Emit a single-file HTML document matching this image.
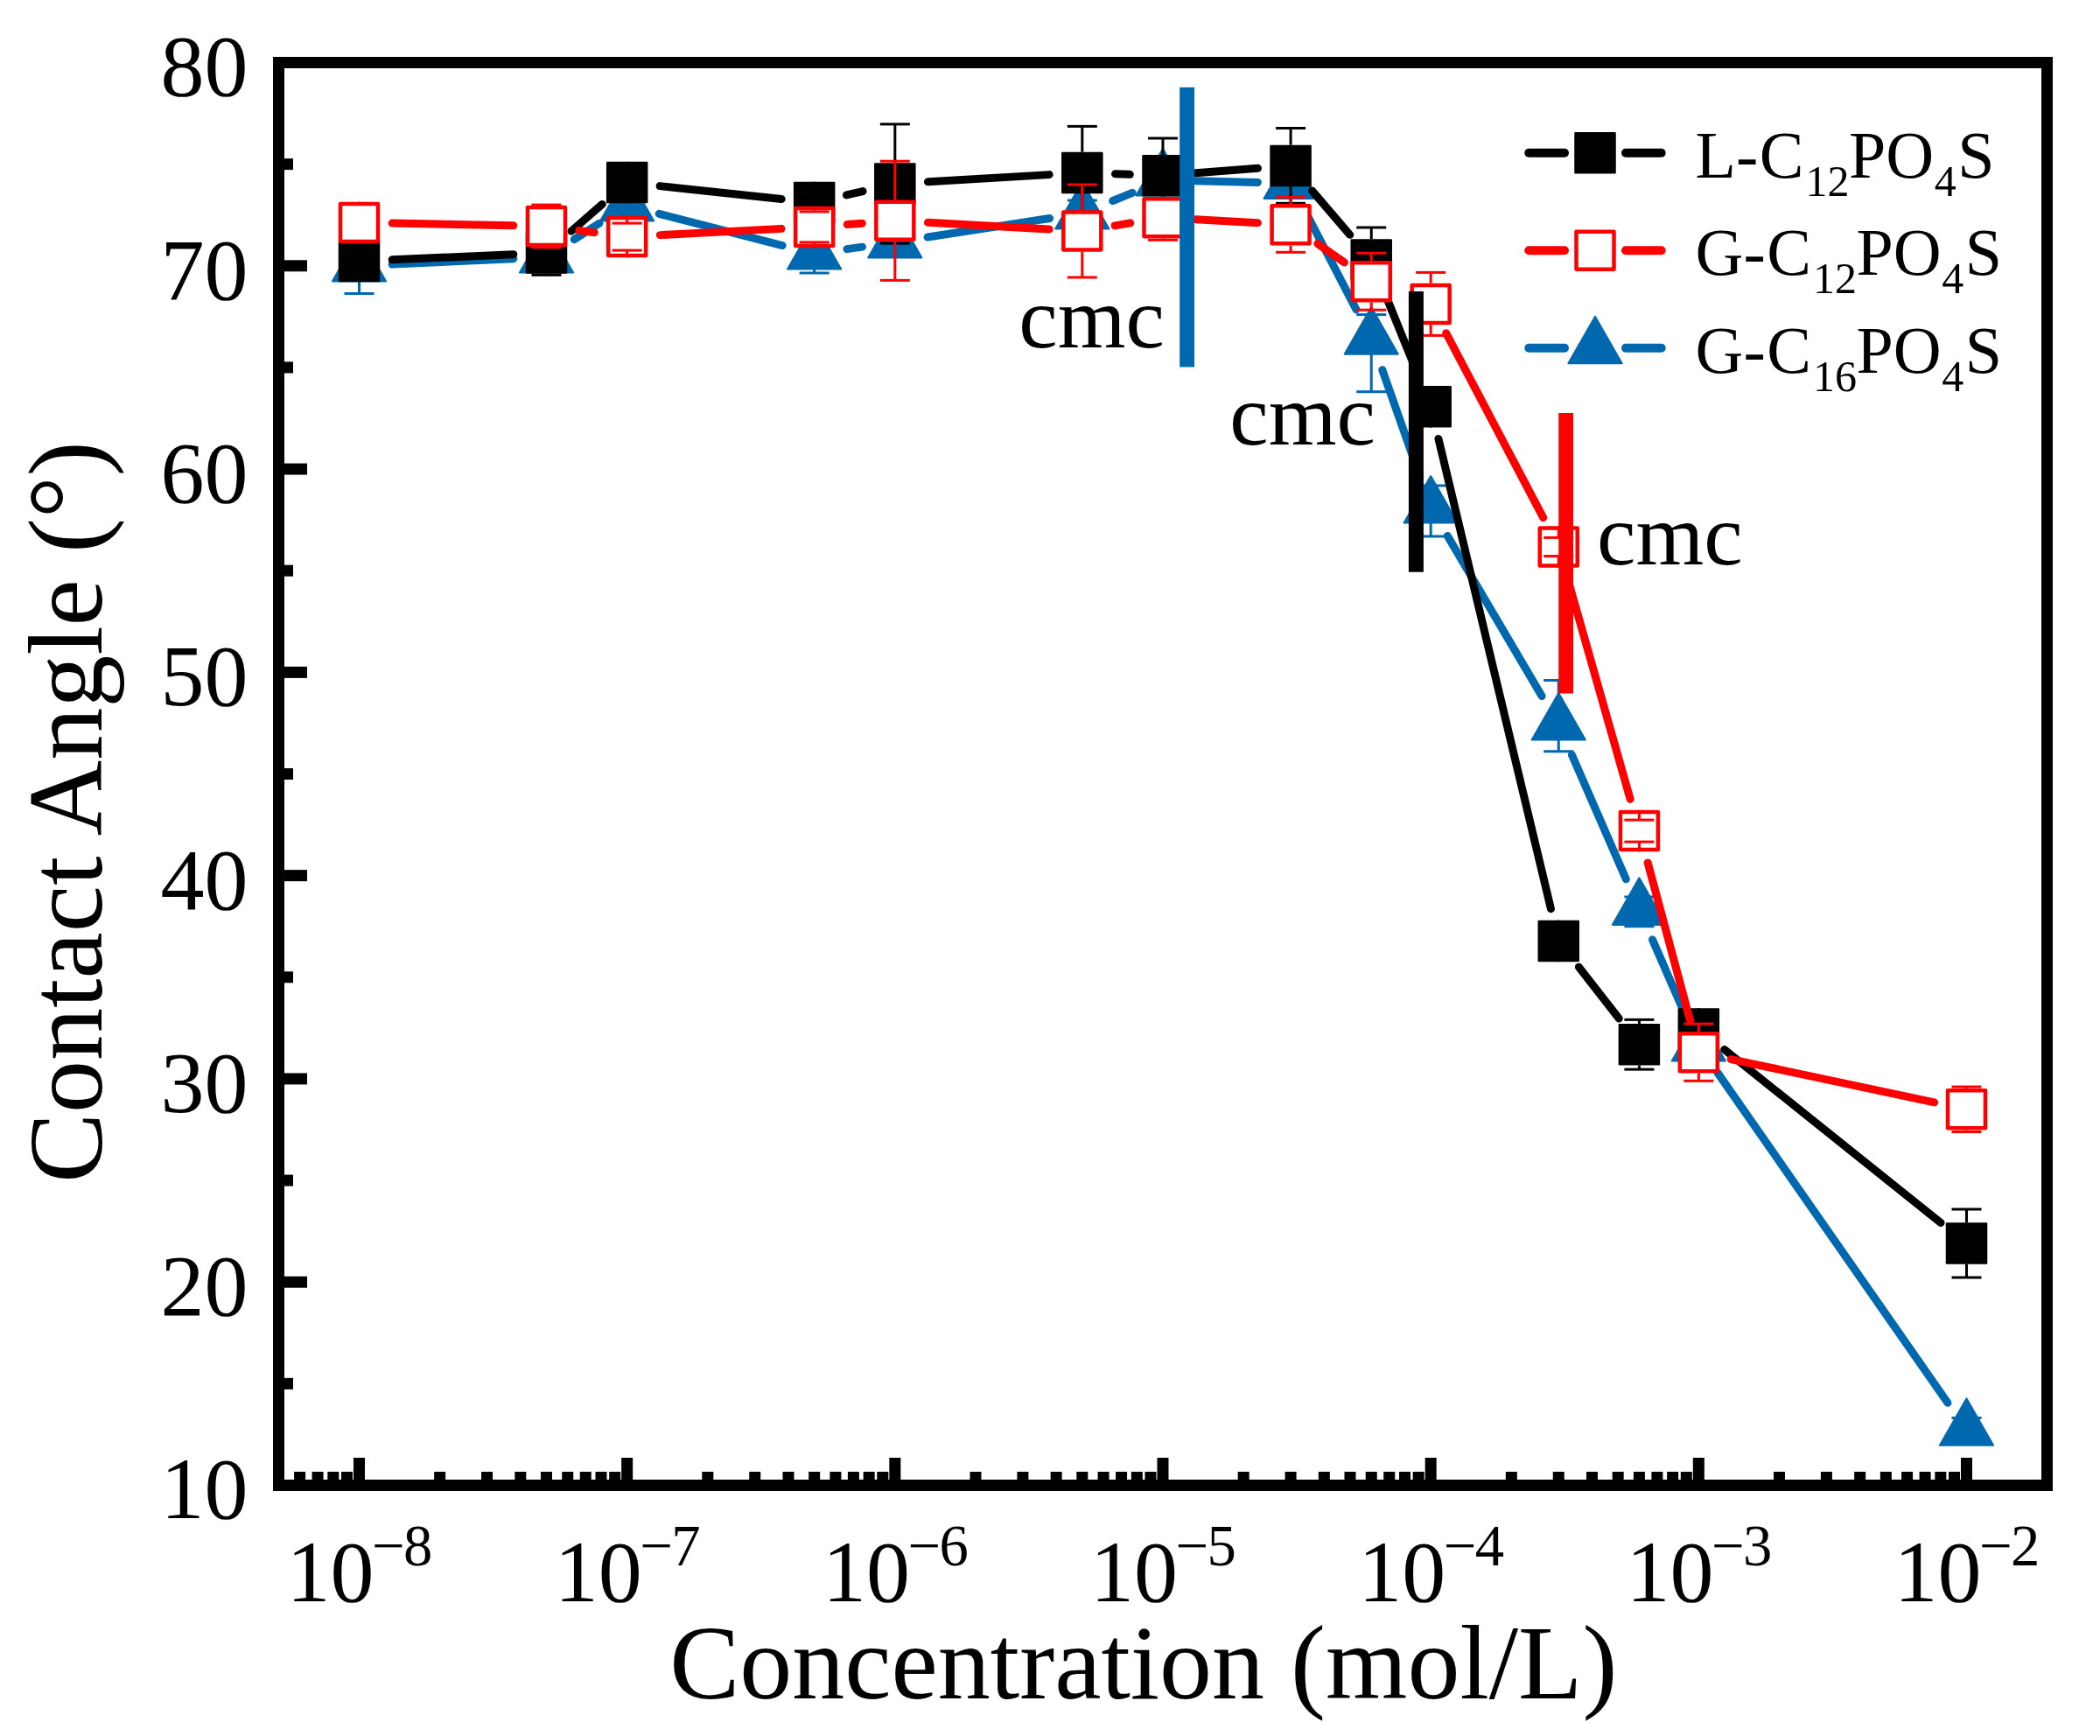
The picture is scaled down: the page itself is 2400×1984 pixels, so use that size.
<!DOCTYPE html>
<html lang="en"><head><meta charset="utf-8"><title>Contact Angle vs Concentration</title>
<style>html,body{margin:0;padding:0;background:#fff}svg{display:block}text{fill:#000}</style>
</head><body>
<svg width="2400" height="1984" viewBox="0 0 2400 1984">
<rect width="2400" height="1984" fill="#fff"/>
<g id="blue">
<line x1="448.16" y1="302.08" x2="586.84" y2="295.72" stroke="#0068AE" stroke-width="9" stroke-linecap="round"/>
<line x1="656.24" y1="273.65" x2="684.93" y2="255.25" stroke="#0068AE" stroke-width="9" stroke-linecap="round"/>
<line x1="753.18" y1="244.30" x2="894.16" y2="280.60" stroke="#0068AE" stroke-width="9" stroke-linecap="round"/>
<line x1="967.99" y1="284.66" x2="985.51" y2="282.14" stroke="#0068AE" stroke-width="9" stroke-linecap="round"/>
<line x1="1060.09" y1="271.05" x2="1199.58" y2="249.55" stroke="#0068AE" stroke-width="9" stroke-linecap="round"/>
<line x1="1271.72" y1="229.49" x2="1294.12" y2="220.31" stroke="#0068AE" stroke-width="9" stroke-linecap="round"/>
<line x1="1366.69" y1="206.85" x2="1437.39" y2="208.45" stroke="#0068AE" stroke-width="9" stroke-linecap="round"/>
<line x1="1492.43" y1="242.77" x2="1549.89" y2="353.63" stroke="#0068AE" stroke-width="9" stroke-linecap="round"/>
<line x1="1579.77" y1="422.66" x2="1622.65" y2="544.44" stroke="#0068AE" stroke-width="9" stroke-linecap="round"/>
<line x1="1654.30" y1="612.48" x2="1762.11" y2="795.52" stroke="#0068AE" stroke-width="9" stroke-linecap="round"/>
<line x1="1796.32" y1="862.56" x2="1858.34" y2="1004.74" stroke="#0068AE" stroke-width="9" stroke-linecap="round"/>
<line x1="1888.49" y1="1073.86" x2="1926.26" y2="1160.44" stroke="#0068AE" stroke-width="9" stroke-linecap="round"/>
<line x1="1962.89" y1="1225.93" x2="2225.94" y2="1603.27" stroke="#0068AE" stroke-width="9" stroke-linecap="round"/>
<polygon points="410.50,267.80 379.90,321.40 441.10,321.40" fill="#0068AE" stroke="#0068AE" stroke-width="2" stroke-linejoin="round"/>
<polygon points="624.50,258.00 593.90,311.60 655.10,311.60" fill="#0068AE" stroke="#0068AE" stroke-width="2" stroke-linejoin="round"/>
<polygon points="716.67,198.90 686.07,252.50 747.27,252.50" fill="#0068AE" stroke="#0068AE" stroke-width="2" stroke-linejoin="round"/>
<polygon points="930.67,254.00 900.07,307.60 961.27,307.60" fill="#0068AE" stroke="#0068AE" stroke-width="2" stroke-linejoin="round"/>
<polygon points="1022.83,240.80 992.23,294.40 1053.43,294.40" fill="#0068AE" stroke="#0068AE" stroke-width="2" stroke-linejoin="round"/>
<polygon points="1236.83,207.80 1206.23,261.40 1267.43,261.40" fill="#0068AE" stroke="#0068AE" stroke-width="2" stroke-linejoin="round"/>
<polygon points="1329.00,170.00 1298.40,223.60 1359.60,223.60" fill="#0068AE" stroke="#0068AE" stroke-width="2" stroke-linejoin="round"/>
<polygon points="1475.08,173.30 1444.48,226.90 1505.68,226.90" fill="#0068AE" stroke="#0068AE" stroke-width="2" stroke-linejoin="round"/>
<polygon points="1567.24,351.10 1536.64,404.70 1597.84,404.70" fill="#0068AE" stroke="#0068AE" stroke-width="2" stroke-linejoin="round"/>
<polygon points="1635.17,544.00 1604.57,597.60 1665.77,597.60" fill="#0068AE" stroke="#0068AE" stroke-width="2" stroke-linejoin="round"/>
<polygon points="1781.25,792.00 1750.65,845.60 1811.85,845.60" fill="#0068AE" stroke="#0068AE" stroke-width="2" stroke-linejoin="round"/>
<polygon points="1873.41,1003.30 1842.81,1056.90 1904.01,1056.90" fill="#0068AE" stroke="#0068AE" stroke-width="2" stroke-linejoin="round"/>
<polygon points="1941.33,1159.00 1910.73,1212.60 1971.93,1212.60" fill="#0068AE" stroke="#0068AE" stroke-width="2" stroke-linejoin="round"/>
<polygon points="2247.50,1598.20 2216.90,1651.80 2278.10,1651.80" fill="#0068AE" stroke="#0068AE" stroke-width="2" stroke-linejoin="round"/>
<rect x="409.00" y="321.40" width="3" height="14.10" fill="#0068AE"/>
<rect x="393.50" y="334.00" width="34" height="3" fill="#0068AE"/>
<rect x="929.17" y="307.60" width="3" height="4.40" fill="#0068AE"/>
<rect x="913.67" y="310.50" width="34" height="3" fill="#0068AE"/>
<rect x="1219.83" y="227.50" width="34" height="3" fill="#0068AE"/>
<rect x="1550.24" y="358.10" width="34" height="3" fill="#0068AE"/>
<rect x="1565.74" y="404.70" width="3" height="43.00" fill="#0068AE"/>
<rect x="1550.24" y="446.20" width="34" height="3" fill="#0068AE"/>
<rect x="1618.17" y="553.50" width="34" height="3" fill="#0068AE"/>
<rect x="1633.67" y="597.60" width="3" height="15.40" fill="#0068AE"/>
<rect x="1618.17" y="611.50" width="34" height="3" fill="#0068AE"/>
<rect x="1779.75" y="777.50" width="3" height="15.50" fill="#0068AE"/>
<rect x="1764.25" y="776.00" width="34" height="3" fill="#0068AE"/>
<rect x="1779.75" y="845.60" width="3" height="13.15" fill="#0068AE"/>
<rect x="1764.25" y="857.25" width="34" height="3" fill="#0068AE"/>
<rect x="1856.41" y="1023.50" width="34" height="3" fill="#0068AE"/>
<rect x="1871.91" y="1056.90" width="3" height="1.85" fill="#0068AE"/>
<rect x="1856.41" y="1057.25" width="34" height="3" fill="#0068AE"/>
<rect x="2230.50" y="1619.00" width="34" height="3" fill="#0068AE"/>
</g>
<g id="black">
<line x1="448.16" y1="296.83" x2="586.84" y2="290.67" stroke="#000000" stroke-width="9" stroke-linecap="round"/>
<line x1="652.91" y1="264.22" x2="688.26" y2="233.38" stroke="#000000" stroke-width="9" stroke-linecap="round"/>
<line x1="754.15" y1="212.61" x2="893.18" y2="227.49" stroke="#000000" stroke-width="9" stroke-linecap="round"/>
<line x1="967.38" y1="222.94" x2="986.12" y2="218.56" stroke="#000000" stroke-width="9" stroke-linecap="round"/>
<line x1="1060.47" y1="207.78" x2="1199.20" y2="199.62" stroke="#000000" stroke-width="9" stroke-linecap="round"/>
<line x1="1274.51" y1="198.75" x2="1291.32" y2="199.35" stroke="#000000" stroke-width="9" stroke-linecap="round"/>
<line x1="1366.59" y1="197.79" x2="1437.49" y2="192.31" stroke="#000000" stroke-width="9" stroke-linecap="round"/>
<line x1="1499.60" y1="218.03" x2="1542.72" y2="268.37" stroke="#000000" stroke-width="9" stroke-linecap="round"/>
<line x1="1581.39" y1="331.95" x2="1621.02" y2="429.85" stroke="#000000" stroke-width="9" stroke-linecap="round"/>
<line x1="1643.94" y1="501.47" x2="1772.47" y2="1038.73" stroke="#000000" stroke-width="9" stroke-linecap="round"/>
<line x1="1804.41" y1="1105.14" x2="1850.25" y2="1164.01" stroke="#000000" stroke-width="9" stroke-linecap="round"/>
<line x1="1970.77" y1="1199.55" x2="2218.06" y2="1397.45" stroke="#000000" stroke-width="9" stroke-linecap="round"/>
<rect x="387.75" y="275.75" width="45.5" height="45.5" fill="#000000" stroke="#000000" stroke-width="2" stroke-linejoin="round"/>
<rect x="601.75" y="266.25" width="45.5" height="45.5" fill="#000000" stroke="#000000" stroke-width="2" stroke-linejoin="round"/>
<rect x="693.92" y="185.85" width="45.5" height="45.5" fill="#000000" stroke="#000000" stroke-width="2" stroke-linejoin="round"/>
<rect x="907.92" y="208.75" width="45.5" height="45.5" fill="#000000" stroke="#000000" stroke-width="2" stroke-linejoin="round"/>
<rect x="1000.08" y="187.25" width="45.5" height="45.5" fill="#000000" stroke="#000000" stroke-width="2" stroke-linejoin="round"/>
<rect x="1214.08" y="174.65" width="45.5" height="45.5" fill="#000000" stroke="#000000" stroke-width="2" stroke-linejoin="round"/>
<rect x="1306.25" y="177.95" width="45.5" height="45.5" fill="#000000" stroke="#000000" stroke-width="2" stroke-linejoin="round"/>
<rect x="1452.33" y="166.65" width="45.5" height="45.5" fill="#000000" stroke="#000000" stroke-width="2" stroke-linejoin="round"/>
<rect x="1544.49" y="274.25" width="45.5" height="45.5" fill="#000000" stroke="#000000" stroke-width="2" stroke-linejoin="round"/>
<rect x="1612.42" y="442.05" width="45.5" height="45.5" fill="#000000" stroke="#000000" stroke-width="2" stroke-linejoin="round"/>
<rect x="1758.50" y="1052.65" width="45.5" height="45.5" fill="#000000" stroke="#000000" stroke-width="2" stroke-linejoin="round"/>
<rect x="1850.66" y="1171.00" width="45.5" height="45.5" fill="#000000" stroke="#000000" stroke-width="2" stroke-linejoin="round"/>
<rect x="1918.58" y="1153.25" width="45.5" height="45.5" fill="#000000" stroke="#000000" stroke-width="2" stroke-linejoin="round"/>
<rect x="2224.75" y="1398.25" width="45.5" height="45.5" fill="#000000" stroke="#000000" stroke-width="2" stroke-linejoin="round"/>
<rect x="409.00" y="274.75" width="3" height="13.75" fill="#000000"/>
<rect x="393.50" y="287.00" width="34" height="3" fill="#000000"/>
<rect x="409.00" y="308.50" width="3" height="13.75" fill="#000000"/>
<rect x="393.50" y="307.00" width="34" height="3" fill="#000000"/>
<rect x="623.00" y="263.70" width="3" height="1.55" fill="#000000"/>
<rect x="607.50" y="262.20" width="34" height="3" fill="#000000"/>
<rect x="623.00" y="312.75" width="3" height="1.55" fill="#000000"/>
<rect x="607.50" y="312.80" width="34" height="3" fill="#000000"/>
<rect x="715.17" y="184.85" width="3" height="13.75" fill="#000000"/>
<rect x="699.67" y="197.10" width="34" height="3" fill="#000000"/>
<rect x="715.17" y="218.60" width="3" height="13.75" fill="#000000"/>
<rect x="699.67" y="217.10" width="34" height="3" fill="#000000"/>
<rect x="929.17" y="207.75" width="3" height="13.75" fill="#000000"/>
<rect x="913.67" y="220.00" width="34" height="3" fill="#000000"/>
<rect x="929.17" y="241.50" width="3" height="13.75" fill="#000000"/>
<rect x="913.67" y="240.00" width="34" height="3" fill="#000000"/>
<rect x="1021.33" y="141.90" width="3" height="44.35" fill="#000000"/>
<rect x="1005.83" y="140.40" width="34" height="3" fill="#000000"/>
<rect x="1021.33" y="233.75" width="3" height="44.35" fill="#000000"/>
<rect x="1005.83" y="276.60" width="34" height="3" fill="#000000"/>
<rect x="1235.33" y="144.40" width="3" height="29.25" fill="#000000"/>
<rect x="1219.83" y="142.90" width="34" height="3" fill="#000000"/>
<rect x="1235.33" y="221.15" width="3" height="29.25" fill="#000000"/>
<rect x="1219.83" y="248.90" width="34" height="3" fill="#000000"/>
<rect x="1327.50" y="158.00" width="3" height="18.95" fill="#000000"/>
<rect x="1312.00" y="156.50" width="34" height="3" fill="#000000"/>
<rect x="1327.50" y="224.45" width="3" height="18.95" fill="#000000"/>
<rect x="1312.00" y="241.90" width="34" height="3" fill="#000000"/>
<rect x="1473.58" y="146.50" width="3" height="19.15" fill="#000000"/>
<rect x="1458.08" y="145.00" width="34" height="3" fill="#000000"/>
<rect x="1473.58" y="213.15" width="3" height="19.15" fill="#000000"/>
<rect x="1458.08" y="230.80" width="34" height="3" fill="#000000"/>
<rect x="1565.74" y="260.00" width="3" height="13.25" fill="#000000"/>
<rect x="1550.24" y="258.50" width="34" height="3" fill="#000000"/>
<rect x="1565.74" y="320.75" width="3" height="13.25" fill="#000000"/>
<rect x="1550.24" y="332.50" width="34" height="3" fill="#000000"/>
<rect x="1633.67" y="441.05" width="3" height="13.75" fill="#000000"/>
<rect x="1618.17" y="453.30" width="34" height="3" fill="#000000"/>
<rect x="1633.67" y="474.80" width="3" height="13.75" fill="#000000"/>
<rect x="1618.17" y="473.30" width="34" height="3" fill="#000000"/>
<rect x="1779.75" y="1051.65" width="3" height="13.75" fill="#000000"/>
<rect x="1764.25" y="1063.90" width="34" height="3" fill="#000000"/>
<rect x="1779.75" y="1085.40" width="3" height="13.75" fill="#000000"/>
<rect x="1764.25" y="1083.90" width="34" height="3" fill="#000000"/>
<rect x="1871.91" y="1165.35" width="3" height="4.65" fill="#000000"/>
<rect x="1856.41" y="1163.85" width="34" height="3" fill="#000000"/>
<rect x="1871.91" y="1217.50" width="3" height="4.65" fill="#000000"/>
<rect x="1856.41" y="1220.65" width="34" height="3" fill="#000000"/>
<rect x="1939.83" y="1152.25" width="3" height="13.75" fill="#000000"/>
<rect x="1924.33" y="1164.50" width="34" height="3" fill="#000000"/>
<rect x="1939.83" y="1186.00" width="3" height="13.75" fill="#000000"/>
<rect x="1924.33" y="1184.50" width="34" height="3" fill="#000000"/>
<rect x="2246.00" y="1382.00" width="3" height="15.25" fill="#000000"/>
<rect x="2230.50" y="1380.50" width="34" height="3" fill="#000000"/>
<rect x="2246.00" y="1444.75" width="3" height="15.25" fill="#000000"/>
<rect x="2230.50" y="1458.50" width="34" height="3" fill="#000000"/>
</g>
<g id="red">
<line x1="448.19" y1="255.12" x2="586.81" y2="257.78" stroke="#FF0000" stroke-width="9" stroke-linecap="round"/>
<line x1="661.88" y1="263.41" x2="679.29" y2="265.69" stroke="#FF0000" stroke-width="9" stroke-linecap="round"/>
<line x1="754.32" y1="268.63" x2="893.02" y2="261.37" stroke="#FF0000" stroke-width="9" stroke-linecap="round"/>
<line x1="968.26" y1="256.50" x2="985.24" y2="255.20" stroke="#FF0000" stroke-width="9" stroke-linecap="round"/>
<line x1="1060.48" y1="254.36" x2="1199.19" y2="261.94" stroke="#FF0000" stroke-width="9" stroke-linecap="round"/>
<line x1="1274.03" y1="257.83" x2="1291.81" y2="254.87" stroke="#FF0000" stroke-width="9" stroke-linecap="round"/>
<line x1="1366.64" y1="250.79" x2="1437.44" y2="254.71" stroke="#FF0000" stroke-width="9" stroke-linecap="round"/>
<line x1="1505.90" y1="278.51" x2="1536.42" y2="299.99" stroke="#FF0000" stroke-width="9" stroke-linecap="round"/>
<line x1="1652.72" y1="380.76" x2="1763.69" y2="591.64" stroke="#FF0000" stroke-width="9" stroke-linecap="round"/>
<line x1="1791.54" y1="661.27" x2="1863.11" y2="913.33" stroke="#FF0000" stroke-width="9" stroke-linecap="round"/>
<line x1="1883.18" y1="986.01" x2="1931.56" y2="1166.29" stroke="#FF0000" stroke-width="9" stroke-linecap="round"/>
<line x1="1978.21" y1="1210.54" x2="2210.62" y2="1259.96" stroke="#FF0000" stroke-width="9" stroke-linecap="round"/>
<rect x="389.00" y="232.90" width="43.0" height="43.0" fill="#fff" stroke="#FF0000" stroke-width="4.5" stroke-linejoin="round"/>
<rect x="603.00" y="237.00" width="43.0" height="43.0" fill="#fff" stroke="#FF0000" stroke-width="4.5" stroke-linejoin="round"/>
<rect x="695.17" y="249.10" width="43.0" height="43.0" fill="#fff" stroke="#FF0000" stroke-width="4.5" stroke-linejoin="round"/>
<rect x="909.17" y="237.90" width="43.0" height="43.0" fill="#fff" stroke="#FF0000" stroke-width="4.5" stroke-linejoin="round"/>
<rect x="1001.33" y="230.80" width="43.0" height="43.0" fill="#fff" stroke="#FF0000" stroke-width="4.5" stroke-linejoin="round"/>
<rect x="1215.33" y="242.50" width="43.0" height="43.0" fill="#fff" stroke="#FF0000" stroke-width="4.5" stroke-linejoin="round"/>
<rect x="1307.50" y="227.20" width="43.0" height="43.0" fill="#fff" stroke="#FF0000" stroke-width="4.5" stroke-linejoin="round"/>
<rect x="1453.58" y="235.30" width="43.0" height="43.0" fill="#fff" stroke="#FF0000" stroke-width="4.5" stroke-linejoin="round"/>
<rect x="1545.74" y="300.20" width="43.0" height="43.0" fill="#fff" stroke="#FF0000" stroke-width="4.5" stroke-linejoin="round"/>
<rect x="1613.67" y="325.90" width="43.0" height="43.0" fill="#fff" stroke="#FF0000" stroke-width="4.5" stroke-linejoin="round"/>
<rect x="1759.75" y="603.50" width="43.0" height="43.0" fill="#fff" stroke="#FF0000" stroke-width="4.5" stroke-linejoin="round"/>
<rect x="1851.91" y="928.10" width="43.0" height="43.0" fill="#fff" stroke="#FF0000" stroke-width="4.5" stroke-linejoin="round"/>
<rect x="1919.83" y="1181.20" width="43.0" height="43.0" fill="#fff" stroke="#FF0000" stroke-width="4.5" stroke-linejoin="round"/>
<rect x="2226.00" y="1246.30" width="43.0" height="43.0" fill="#fff" stroke="#FF0000" stroke-width="4.5" stroke-linejoin="round"/>
<rect x="409.00" y="230.65" width="3" height="2.25" fill="#FF0000"/>
<rect x="393.50" y="231.40" width="34" height="3" fill="#FF0000"/>
<rect x="409.00" y="275.90" width="3" height="2.25" fill="#FF0000"/>
<rect x="393.50" y="274.40" width="34" height="3" fill="#FF0000"/>
<rect x="623.00" y="234.10" width="3" height="0.65" fill="#FF0000"/>
<rect x="607.50" y="232.60" width="34" height="3" fill="#FF0000"/>
<rect x="623.00" y="282.25" width="3" height="0.65" fill="#FF0000"/>
<rect x="607.50" y="281.40" width="34" height="3" fill="#FF0000"/>
<rect x="715.17" y="246.85" width="3" height="8.25" fill="#FF0000"/>
<rect x="699.67" y="253.60" width="34" height="3" fill="#FF0000"/>
<rect x="715.17" y="286.10" width="3" height="8.25" fill="#FF0000"/>
<rect x="699.67" y="284.60" width="34" height="3" fill="#FF0000"/>
<rect x="929.17" y="235.65" width="3" height="6.25" fill="#FF0000"/>
<rect x="913.67" y="240.40" width="34" height="3" fill="#FF0000"/>
<rect x="929.17" y="276.90" width="3" height="6.25" fill="#FF0000"/>
<rect x="913.67" y="275.40" width="34" height="3" fill="#FF0000"/>
<rect x="1021.33" y="184.20" width="3" height="44.35" fill="#FF0000"/>
<rect x="1005.83" y="182.70" width="34" height="3" fill="#FF0000"/>
<rect x="1021.33" y="276.05" width="3" height="44.35" fill="#FF0000"/>
<rect x="1005.83" y="318.90" width="34" height="3" fill="#FF0000"/>
<rect x="1235.33" y="211.00" width="3" height="29.25" fill="#FF0000"/>
<rect x="1219.83" y="209.50" width="34" height="3" fill="#FF0000"/>
<rect x="1235.33" y="287.75" width="3" height="29.25" fill="#FF0000"/>
<rect x="1219.83" y="315.50" width="34" height="3" fill="#FF0000"/>
<rect x="1327.50" y="224.95" width="3" height="2.25" fill="#FF0000"/>
<rect x="1312.00" y="225.70" width="34" height="3" fill="#FF0000"/>
<rect x="1327.50" y="272.45" width="3" height="1.85" fill="#FF0000"/>
<rect x="1312.00" y="272.80" width="34" height="3" fill="#FF0000"/>
<rect x="1473.58" y="225.30" width="3" height="7.75" fill="#FF0000"/>
<rect x="1458.08" y="223.80" width="34" height="3" fill="#FF0000"/>
<rect x="1473.58" y="280.55" width="3" height="7.75" fill="#FF0000"/>
<rect x="1458.08" y="286.80" width="34" height="3" fill="#FF0000"/>
<rect x="1565.74" y="289.20" width="3" height="8.75" fill="#FF0000"/>
<rect x="1550.24" y="287.70" width="34" height="3" fill="#FF0000"/>
<rect x="1565.74" y="345.45" width="3" height="8.75" fill="#FF0000"/>
<rect x="1550.24" y="352.70" width="34" height="3" fill="#FF0000"/>
<rect x="1633.67" y="311.40" width="3" height="12.25" fill="#FF0000"/>
<rect x="1618.17" y="309.90" width="34" height="3" fill="#FF0000"/>
<rect x="1633.67" y="371.15" width="3" height="12.25" fill="#FF0000"/>
<rect x="1618.17" y="381.90" width="34" height="3" fill="#FF0000"/>
<rect x="1779.75" y="601.25" width="3" height="13.15" fill="#FF0000"/>
<rect x="1764.25" y="612.90" width="34" height="3" fill="#FF0000"/>
<rect x="1779.75" y="635.60" width="3" height="13.15" fill="#FF0000"/>
<rect x="1764.25" y="634.10" width="34" height="3" fill="#FF0000"/>
<rect x="1871.91" y="925.85" width="3" height="11.25" fill="#FF0000"/>
<rect x="1856.41" y="935.60" width="34" height="3" fill="#FF0000"/>
<rect x="1871.91" y="962.10" width="3" height="11.25" fill="#FF0000"/>
<rect x="1856.41" y="960.60" width="34" height="3" fill="#FF0000"/>
<rect x="1939.83" y="1170.10" width="3" height="8.85" fill="#FF0000"/>
<rect x="1924.33" y="1168.60" width="34" height="3" fill="#FF0000"/>
<rect x="1939.83" y="1226.45" width="3" height="8.85" fill="#FF0000"/>
<rect x="1924.33" y="1233.80" width="34" height="3" fill="#FF0000"/>
<rect x="2246.00" y="1242.05" width="3" height="2.00" fill="#FF0000"/>
<rect x="2230.50" y="1240.55" width="34" height="3" fill="#FF0000"/>
<rect x="2246.00" y="1291.55" width="3" height="2.00" fill="#FF0000"/>
<rect x="2230.50" y="1292.05" width="34" height="3" fill="#FF0000"/>
</g>
<rect x="1348.2" y="99.8" width="16.8" height="319.7" fill="#0068AE"/>
<rect x="1609.9" y="333" width="17" height="320.75" fill="#000000"/>
<rect x="1781.25" y="472" width="16.75" height="320.5" fill="#FF0000"/>
<text x="1164.35" y="396.75" font-size="100" font-family="'Liberation Serif', 'Times New Roman', serif">cmc</text>
<text x="1405.35" y="508" font-size="100" font-family="'Liberation Serif', 'Times New Roman', serif">cmc</text>
<text x="1825.1" y="645" font-size="100" font-family="'Liberation Serif', 'Times New Roman', serif">cmc</text>
<rect x="318.5" y="71.5" width="2021.0" height="1626.0" fill="none" stroke="#000" stroke-width="13"/>
<rect x="404.00" y="1666" width="13" height="30" fill="#000"/>
<rect x="710.17" y="1666" width="13" height="30" fill="#000"/>
<rect x="1016.33" y="1666" width="13" height="30" fill="#000"/>
<rect x="1322.50" y="1666" width="13" height="30" fill="#000"/>
<rect x="1628.67" y="1666" width="13" height="30" fill="#000"/>
<rect x="1934.83" y="1666" width="13" height="30" fill="#000"/>
<rect x="2241.00" y="1666" width="13" height="30" fill="#000"/>
<rect x="336.08" y="1682" width="13" height="12" fill="#000"/>
<rect x="356.57" y="1682" width="13" height="12" fill="#000"/>
<rect x="374.33" y="1682" width="13" height="12" fill="#000"/>
<rect x="389.99" y="1682" width="13" height="12" fill="#000"/>
<rect x="496.17" y="1682" width="13" height="12" fill="#000"/>
<rect x="550.08" y="1682" width="13" height="12" fill="#000"/>
<rect x="588.33" y="1682" width="13" height="12" fill="#000"/>
<rect x="618.00" y="1682" width="13" height="12" fill="#000"/>
<rect x="642.24" y="1682" width="13" height="12" fill="#000"/>
<rect x="662.74" y="1682" width="13" height="12" fill="#000"/>
<rect x="680.50" y="1682" width="13" height="12" fill="#000"/>
<rect x="696.16" y="1682" width="13" height="12" fill="#000"/>
<rect x="802.33" y="1682" width="13" height="12" fill="#000"/>
<rect x="856.25" y="1682" width="13" height="12" fill="#000"/>
<rect x="894.50" y="1682" width="13" height="12" fill="#000"/>
<rect x="924.17" y="1682" width="13" height="12" fill="#000"/>
<rect x="948.41" y="1682" width="13" height="12" fill="#000"/>
<rect x="968.91" y="1682" width="13" height="12" fill="#000"/>
<rect x="986.66" y="1682" width="13" height="12" fill="#000"/>
<rect x="1002.32" y="1682" width="13" height="12" fill="#000"/>
<rect x="1108.50" y="1682" width="13" height="12" fill="#000"/>
<rect x="1162.41" y="1682" width="13" height="12" fill="#000"/>
<rect x="1200.66" y="1682" width="13" height="12" fill="#000"/>
<rect x="1230.33" y="1682" width="13" height="12" fill="#000"/>
<rect x="1254.58" y="1682" width="13" height="12" fill="#000"/>
<rect x="1275.07" y="1682" width="13" height="12" fill="#000"/>
<rect x="1292.83" y="1682" width="13" height="12" fill="#000"/>
<rect x="1308.49" y="1682" width="13" height="12" fill="#000"/>
<rect x="1414.67" y="1682" width="13" height="12" fill="#000"/>
<rect x="1468.58" y="1682" width="13" height="12" fill="#000"/>
<rect x="1506.83" y="1682" width="13" height="12" fill="#000"/>
<rect x="1536.50" y="1682" width="13" height="12" fill="#000"/>
<rect x="1560.74" y="1682" width="13" height="12" fill="#000"/>
<rect x="1581.24" y="1682" width="13" height="12" fill="#000"/>
<rect x="1599.00" y="1682" width="13" height="12" fill="#000"/>
<rect x="1614.66" y="1682" width="13" height="12" fill="#000"/>
<rect x="1720.83" y="1682" width="13" height="12" fill="#000"/>
<rect x="1774.75" y="1682" width="13" height="12" fill="#000"/>
<rect x="1813.00" y="1682" width="13" height="12" fill="#000"/>
<rect x="1842.67" y="1682" width="13" height="12" fill="#000"/>
<rect x="1866.91" y="1682" width="13" height="12" fill="#000"/>
<rect x="1887.41" y="1682" width="13" height="12" fill="#000"/>
<rect x="1905.16" y="1682" width="13" height="12" fill="#000"/>
<rect x="1920.82" y="1682" width="13" height="12" fill="#000"/>
<rect x="2027.00" y="1682" width="13" height="12" fill="#000"/>
<rect x="2080.91" y="1682" width="13" height="12" fill="#000"/>
<rect x="2119.16" y="1682" width="13" height="12" fill="#000"/>
<rect x="2148.83" y="1682" width="13" height="12" fill="#000"/>
<rect x="2173.08" y="1682" width="13" height="12" fill="#000"/>
<rect x="2193.57" y="1682" width="13" height="12" fill="#000"/>
<rect x="2211.33" y="1682" width="13" height="12" fill="#000"/>
<rect x="2226.99" y="1682" width="13" height="12" fill="#000"/>
<rect x="322" y="1574.86" width="13" height="13" fill="#000"/>
<rect x="322" y="1458.71" width="29" height="13" fill="#000"/>
<rect x="322" y="1342.57" width="13" height="13" fill="#000"/>
<rect x="322" y="1226.43" width="29" height="13" fill="#000"/>
<rect x="322" y="1110.29" width="13" height="13" fill="#000"/>
<rect x="322" y="994.14" width="29" height="13" fill="#000"/>
<rect x="322" y="878.00" width="13" height="13" fill="#000"/>
<rect x="322" y="761.86" width="29" height="13" fill="#000"/>
<rect x="322" y="645.71" width="13" height="13" fill="#000"/>
<rect x="322" y="529.57" width="29" height="13" fill="#000"/>
<rect x="322" y="413.43" width="13" height="13" fill="#000"/>
<rect x="322" y="297.29" width="29" height="13" fill="#000"/>
<rect x="322" y="181.14" width="13" height="13" fill="#000"/>
<text x="183.5" y="1735.40" font-size="100" font-family="'Liberation Serif', 'Times New Roman', serif">10</text>
<text x="183.5" y="1503.11" font-size="100" font-family="'Liberation Serif', 'Times New Roman', serif">20</text>
<text x="183.5" y="1270.83" font-size="100" font-family="'Liberation Serif', 'Times New Roman', serif">30</text>
<text x="183.5" y="1038.54" font-size="100" font-family="'Liberation Serif', 'Times New Roman', serif">40</text>
<text x="183.5" y="806.26" font-size="100" font-family="'Liberation Serif', 'Times New Roman', serif">50</text>
<text x="183.5" y="573.97" font-size="100" font-family="'Liberation Serif', 'Times New Roman', serif">60</text>
<text x="183.5" y="341.69" font-size="100" font-family="'Liberation Serif', 'Times New Roman', serif">70</text>
<text x="183.5" y="109.40" font-size="100" font-family="'Liberation Serif', 'Times New Roman', serif">80</text>
<text x="327.60" y="1829.8" font-size="100" font-family="'Liberation Serif', 'Times New Roman', serif">10</text>
<text x="425.30" y="1788.8" font-size="66.7" font-family="'Liberation Serif', 'Times New Roman', serif">−</text>
<text x="461.10" y="1789" font-size="66.7" font-family="'Liberation Serif', 'Times New Roman', serif">8</text>
<text x="633.77" y="1829.8" font-size="100" font-family="'Liberation Serif', 'Times New Roman', serif">10</text>
<text x="731.47" y="1788.8" font-size="66.7" font-family="'Liberation Serif', 'Times New Roman', serif">−</text>
<text x="767.27" y="1789" font-size="66.7" font-family="'Liberation Serif', 'Times New Roman', serif">7</text>
<text x="939.93" y="1829.8" font-size="100" font-family="'Liberation Serif', 'Times New Roman', serif">10</text>
<text x="1037.63" y="1788.8" font-size="66.7" font-family="'Liberation Serif', 'Times New Roman', serif">−</text>
<text x="1073.43" y="1789" font-size="66.7" font-family="'Liberation Serif', 'Times New Roman', serif">6</text>
<text x="1246.10" y="1829.8" font-size="100" font-family="'Liberation Serif', 'Times New Roman', serif">10</text>
<text x="1343.80" y="1788.8" font-size="66.7" font-family="'Liberation Serif', 'Times New Roman', serif">−</text>
<text x="1379.60" y="1789" font-size="66.7" font-family="'Liberation Serif', 'Times New Roman', serif">5</text>
<text x="1552.27" y="1829.8" font-size="100" font-family="'Liberation Serif', 'Times New Roman', serif">10</text>
<text x="1649.97" y="1788.8" font-size="66.7" font-family="'Liberation Serif', 'Times New Roman', serif">−</text>
<text x="1685.77" y="1789" font-size="66.7" font-family="'Liberation Serif', 'Times New Roman', serif">4</text>
<text x="1858.43" y="1829.8" font-size="100" font-family="'Liberation Serif', 'Times New Roman', serif">10</text>
<text x="1956.13" y="1788.8" font-size="66.7" font-family="'Liberation Serif', 'Times New Roman', serif">−</text>
<text x="1991.93" y="1789" font-size="66.7" font-family="'Liberation Serif', 'Times New Roman', serif">3</text>
<text x="2164.60" y="1829.8" font-size="100" font-family="'Liberation Serif', 'Times New Roman', serif">10</text>
<text x="2262.30" y="1788.8" font-size="66.7" font-family="'Liberation Serif', 'Times New Roman', serif">−</text>
<text x="2298.10" y="1789" font-size="66.7" font-family="'Liberation Serif', 'Times New Roman', serif">2</text>
<text x="765.3" y="1940.5" font-size="120" font-family="'Liberation Serif', 'Times New Roman', serif">Concentration (mol/L)</text>
<text transform="translate(116,1352) rotate(-90)" font-size="120" font-family="'Liberation Serif', 'Times New Roman', serif">Contact Angle (°)</text>
<line x1="1747.3" y1="174.7" x2="1788" y2="174.7" stroke="#000000" stroke-width="10" stroke-linecap="round"/>
<line x1="1858" y1="174.7" x2="1898.7" y2="174.7" stroke="#000000" stroke-width="10" stroke-linecap="round"/>
<rect x="1800.25" y="151.95" width="45.5" height="45.5" fill="#000000" stroke="#000000" stroke-width="2" stroke-linejoin="round"/>
<text x="1937.5" y="202.7" font-size="76" font-family="'Liberation Serif', 'Times New Roman', serif">L-</text>
<text x="2010.80" y="202.7" font-size="76" font-family="'Liberation Serif', 'Times New Roman', serif">C</text>
<text x="2063.60" y="223.50" font-size="50" font-family="'Liberation Serif', 'Times New Roman', serif">12</text>
<text x="2113.00" y="202.7" font-size="76" font-family="'Liberation Serif', 'Times New Roman', serif">PO</text>
<text x="2210.85" y="223.50" font-size="50" font-family="'Liberation Serif', 'Times New Roman', serif">4</text>
<text x="2237.30" y="202.7" font-size="76" font-family="'Liberation Serif', 'Times New Roman', serif">S</text>
<line x1="1747.3" y1="286.2" x2="1788" y2="286.2" stroke="#FF0000" stroke-width="10" stroke-linecap="round"/>
<line x1="1858" y1="286.2" x2="1898.7" y2="286.2" stroke="#FF0000" stroke-width="10" stroke-linecap="round"/>
<rect x="1801.50" y="264.70" width="43.0" height="43.0" fill="#fff" stroke="#FF0000" stroke-width="4.5" stroke-linejoin="round"/>
<text x="1937.5" y="314.2" font-size="76" font-family="'Liberation Serif', 'Times New Roman', serif">G-</text>
<text x="2019.25" y="314.2" font-size="76" font-family="'Liberation Serif', 'Times New Roman', serif">C</text>
<text x="2072.05" y="335.00" font-size="50" font-family="'Liberation Serif', 'Times New Roman', serif">12</text>
<text x="2121.45" y="314.2" font-size="76" font-family="'Liberation Serif', 'Times New Roman', serif">PO</text>
<text x="2219.30" y="335.00" font-size="50" font-family="'Liberation Serif', 'Times New Roman', serif">4</text>
<text x="2245.75" y="314.2" font-size="76" font-family="'Liberation Serif', 'Times New Roman', serif">S</text>
<line x1="1747.3" y1="397.7" x2="1788" y2="397.7" stroke="#0068AE" stroke-width="10" stroke-linecap="round"/>
<line x1="1858" y1="397.7" x2="1898.7" y2="397.7" stroke="#0068AE" stroke-width="10" stroke-linecap="round"/>
<polygon points="1823.00,361.70 1792.40,415.30 1853.60,415.30" fill="#0068AE" stroke="#0068AE" stroke-width="2" stroke-linejoin="round"/>
<text x="1937.5" y="425.7" font-size="76" font-family="'Liberation Serif', 'Times New Roman', serif">G-</text>
<text x="2019.25" y="425.7" font-size="76" font-family="'Liberation Serif', 'Times New Roman', serif">C</text>
<text x="2072.05" y="446.50" font-size="50" font-family="'Liberation Serif', 'Times New Roman', serif">16</text>
<text x="2121.45" y="425.7" font-size="76" font-family="'Liberation Serif', 'Times New Roman', serif">PO</text>
<text x="2219.30" y="446.50" font-size="50" font-family="'Liberation Serif', 'Times New Roman', serif">4</text>
<text x="2245.75" y="425.7" font-size="76" font-family="'Liberation Serif', 'Times New Roman', serif">S</text>
</svg>
</body></html>
